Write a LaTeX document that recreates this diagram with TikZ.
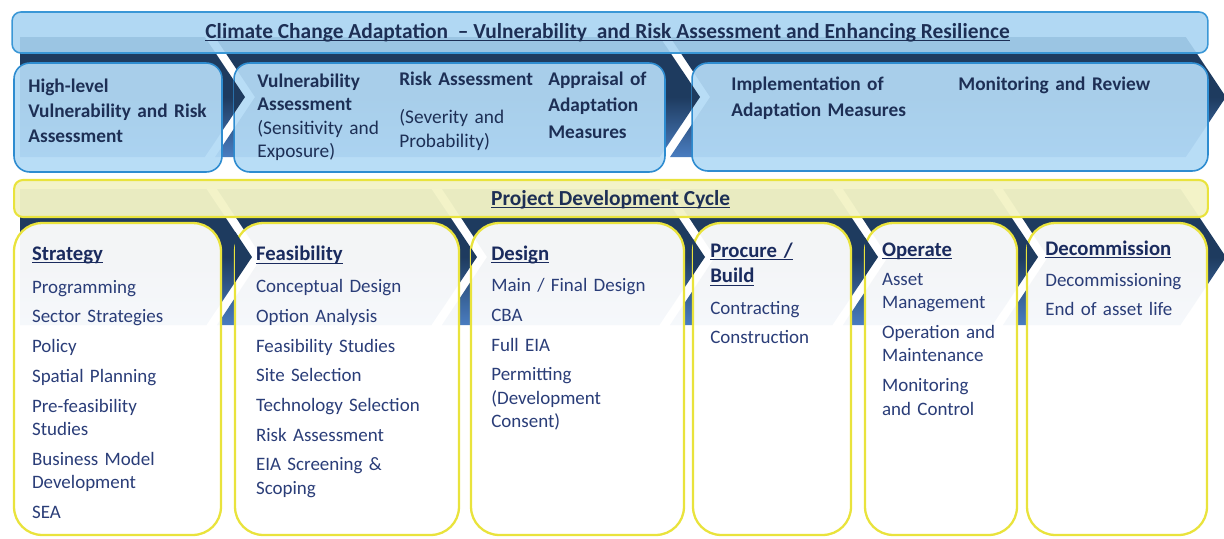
\documentclass[tikz,border=0pt]{standalone}
\usepackage{fontspec}
\setmainfont{Carlito}
\usepackage{tikz}
\usetikzlibrary{shapes,arrows,calc,positioning}
\definecolor{chevdark}{HTML}{1E3B5F}
\definecolor{chevlight}{HTML}{4A7DC0}
\definecolor{barfill}{HTML}{A9D4F2}
\definecolor{barline}{HTML}{3A97D6}
\definecolor{boxfill}{HTML}{B3DAF5}
\definecolor{boxline}{HTML}{2E8CD0}
\definecolor{ylwfill}{HTML}{F2F3C6}
\definecolor{ylwline}{HTML}{E9E33C}
\definecolor{headnavy}{HTML}{1D2F55}
\definecolor{itemnavy}{HTML}{2A3D78}
\definecolor{ttlnavy}{HTML}{1A2B5E}
\tikzstyle{chevron}=[top color=chevdark, bottom color=chevlight, middle color=chevdark]
\tikzstyle{topbar}=[draw=barline, fill=barfill, fill opacity=0.9, line width=0.9pt, rounded corners=5pt]
\tikzstyle{blubox}=[draw=boxline, fill=boxfill, fill opacity=0.93, line width=0.9pt, rounded corners=9pt]
\tikzstyle{ylwbar}=[draw=ylwline, fill=ylwfill, fill opacity=0.96, line width=1.2pt, rounded corners=5pt]
\tikzstyle{stage}=[draw=ylwline, fill=white, fill opacity=0.95, line width=1.3pt, rounded corners=16pt]
\tikzstyle{head}=[anchor=base, inner sep=0pt, text=headnavy, font=\bfseries\fontsize{12.2}{14}\selectfont]
\tikzstyle{adapt}=[anchor=base west, inner sep=0pt, text width=5cm, align=left, text=headnavy]
\tikzstyle{ttl}=[anchor=base west, inner sep=0pt, text width=4cm, align=left, text=ttlnavy, font=\bfseries\fontsize{11.8}{14.4}\selectfont]
\tikzstyle{items}=[anchor=base west, inner sep=0pt, text width=5cm, align=left, text=itemnavy, font=\fontsize{10.8}{13.4}\selectfont]
\newcommand{\hdr}[1]{\underline{\smash{#1}}}
% left x, tip x, mid y, half height, notch depth
\newcommand{\chev}[5]{\path[chevron] (#1,#3-#4) -- (#2-0.67*#4,#3-#4) -- (#2,#3) -- (#2-0.67*#4,#3+#4) -- (#1,#3+#4) -- (#1+#5,#3) -- cycle;}
% box edge x, tip x, mid y
\newcommand{\tip}[3]{\fill[chevdark] (#1,#3-#2/0.67+#1/0.67) -- (#2,#3) -- (#1,#3+#2/0.67-#1/0.67) -- cycle;}

\begin{document}
\begin{tikzpicture}[x=0.02cm,y=-0.02cm]
    \useasboundingbox (0,0) rectangle (1224,538);
    % chevrons behind the adaptation row
    \chev{20}{245}{97}{60}{0}
    \chev{215}{700}{97}{60}{40}
    \chev{670}{1226}{97}{60}{40}
    % chevrons behind the project cycle
    \chev{20}{252}{257}{68}{0}
    \chev{217}{477}{257}{68}{45}
    \chev{442}{705}{257}{68}{45}
    \chev{670}{878}{257}{68}{45}
    \chev{843}{1038}{257}{68}{45}
    \chev{1003}{1226}{257}{68}{45}

    \node[topbar, minimum width=23.92cm, minimum height=0.82cm] (ccabar) at (610,32.5) {};
    \node[head] (ccatext) at (607.5,38.3) {\hdr{Climate Change Adaptation \ -- Vulnerability \ and Risk Assessment and Enhancing Resilience}};

    \node[blubox, minimum width=4.16cm, minimum height=2.18cm] (boxa) at (118,117.5) {};
    \node[blubox, minimum width=8.62cm, minimum height=2.18cm] (boxb) at (449.5,117.5) {};
    \node[blubox, minimum width=10.32cm, minimum height=2.16cm] (boxc) at (950,117) {};
    \tip{234}{245}{97}
    \tip{692}{700}{97}

    \node[adapt, font=\bfseries\fontsize{11}{14.5}\selectfont] (hlvra) at (28,92) {High-level\\Vulnerability and Risk\\Assessment};
    \node[adapt, font=\fontsize{11}{13.4}\selectfont] (vulass) at (257,87.3) {\textbf{Vulnerability}\\\textbf{Assessment}\\(Sensitivity and\\Exposure)};
    \node[adapt, font=\fontsize{11}{13.6}\selectfont] (riskass) at (399,85) {\textbf{Risk Assessment}\\[8.5pt](Severity and\\Probability)};
    \node[adapt, font=\bfseries\fontsize{11}{15.3}\selectfont] (apprais) at (548,85) {Appraisal of\\Adaptation\\Measures};
    \node[adapt, font=\bfseries\fontsize{11}{15.1}\selectfont] (implem) at (731,90) {Implementation of\\Adaptation Measures};
    \node[adapt, font=\bfseries\fontsize{11}{15.1}\selectfont] (monrev) at (958,90.7) {Monitoring and Review};

    \node[ylwbar, minimum width=23.88cm, minimum height=0.74cm] (pdcbar) at (611,198.5) {};
    \node[head] (pdctext) at (610.7,205) {\hdr{Project Development Cycle}};

    % project stages
    \node[stage, minimum width=4.14cm, minimum height=6.24cm] (strat) at (117.5,379) {};
    \node[stage, minimum width=4.48cm, minimum height=6.24cm] (feas) at (347,379) {};
    \node[stage, minimum width=4.26cm, minimum height=6.24cm] (design) at (577.5,379) {};
    \node[stage, minimum width=3.16cm, minimum height=6.24cm] (procure) at (772,379) {};
    \node[stage, minimum width=3.04cm, minimum height=6.24cm] (operate) at (941,379) {};
    \node[stage, minimum width=3.60cm, minimum height=6.24cm] (decom) at (1117,379) {};
    \tip{235}{252}{257}
    \tip{471}{477}{257}
    \tip{693}{705}{257}
    \tip{865}{878}{257}
    \tip{1027}{1038}{257}

    \node[ttl] (strattl) at (31.7,260) {\hdr{Strategy}};
    \node[items] (stratlist) at (31.7,293.3) {Programming\\[3.5pt]Sector Strategies\\[3.5pt]Policy\\[3.5pt]Spatial Planning\\[3.5pt]Pre-feasibility\\Studies\\[3.5pt]Business Model\\Development\\[3.5pt]SEA};

    \node[ttl] (feasttl) at (255.7,260.5) {\hdr{Feasibility}};
    \node[items] (feaslist) at (255.7,292.7) {Conceptual Design\\[3.5pt]Option Analysis\\[3.5pt]Feasibility Studies\\[3.5pt]Site Selection\\[3.5pt]Technology Selection\\[3.5pt]Risk Assessment\\[3.5pt]EIA Screening \&\\Scoping};

    \node[ttl] (desttl) at (491,260) {\hdr{Design}};
    \node[items] (deslist) at (491,291.7) {Main / Final Design\\[3.5pt]CBA\\[3.5pt]Full EIA\\[3.5pt]Permitting\\(Development\\Consent)};

    \node[ttl] (procttl) at (710,257.3) {\hdr{Procure /}\\\hdr{Build}};
    \node[items] (proclist) at (710,314) {Contracting\\[3.5pt]Construction};

    \node[ttl] (operttl) at (881.7,256) {\hdr{Operate}};
    \node[items] (operlist) at (881.7,285) {Asset\\Management\\[3.5pt]Operation and\\Maintenance\\[3.5pt]Monitoring\\and Control};

    \node[ttl] (decomttl) at (1045,255) {\hdr{Decommission}};
    \node[items] (decomlist) at (1045,286) {Decommissioning\\[3.5pt]End of asset life};
\end{tikzpicture}
\end{document}
